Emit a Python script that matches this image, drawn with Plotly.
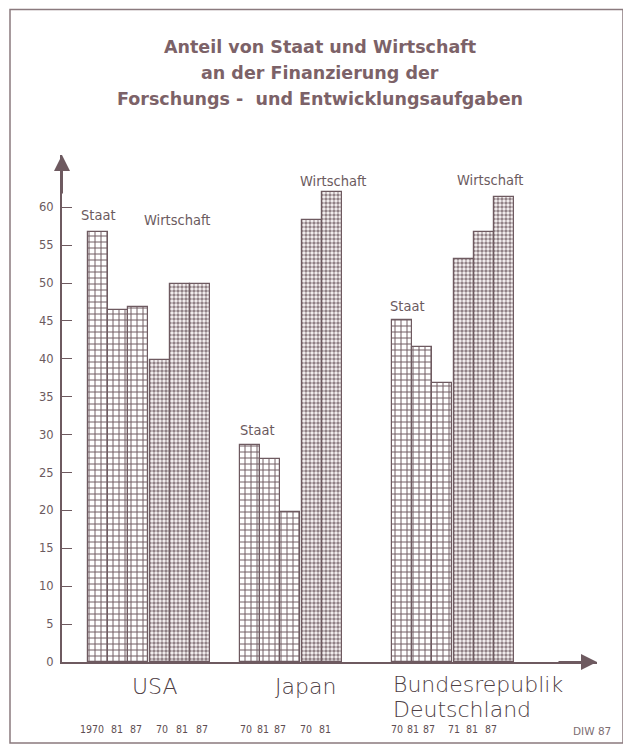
import plotly.graph_objects as go

# ---------------- data ----------------
countries = ["USA", "Japan", "Bundesrepublik", "Deutschland"]
staat_years = [["1970", "81", "87"], ["70", "81", "87"], ["70", "81", "87"]]
staat_values = [[56.7, 46.4, 46.8], [28.6, 26.8, 19.8], [45.1, 41.6, 36.8]]
wirt_years = [["70", "81", "87"], ["70", "81"], ["71", "81", "87"]]
wirt_values = [[39.8, 49.9, 49.9], [58.3, 62.0], [53.2, 56.7, 61.3]]
y_ticks = list(range(0, 61, 5))

# ---------------- layout helpers ----------------
OFF = 8                      # page body margin
W, H = 631, 746
PLOT_L, PLOT_R, PLOT_T, PLOT_B = 62, 597, 155, 662   # reference pixels
L = PLOT_L - OFF
T = PLOT_T - OFF
R = W - (PLOT_R - OFF)
B = H - (PLOT_B - OFF)
PW, PH = PLOT_R - PLOT_L, PLOT_B - PLOT_T
group_start = [1.3, 8.9, 16.5]
wirt_gap = 0.1
x_max = PW / 20.0
y_max = (PLOT_B - PLOT_T) / 7.58

INK = "#6e5a60"
TXT = "#6b5a5e"
TITLE = "#7c6268"


def px_x(px):
    return (px - PLOT_L) / PW


def px_y(py):
    return (PLOT_B - py) / PH


fig = go.Figure()

staat_x, staat_y, wirt_x, wirt_y = [], [], [], []
year_x, year_t = [], []
for g in range(3):
    for k, v in enumerate(staat_values[g]):
        xc = group_start[g] + k + 0.5
        staat_x.append(xc)
        staat_y.append(v)
        year_x.append(xc)
        year_t.append(staat_years[g][k])
    for k, v in enumerate(wirt_values[g]):
        xc = group_start[g] + 3 + wirt_gap + k + 0.5
        wirt_x.append(xc)
        wirt_y.append(v)
        year_x.append(xc)
        year_t.append(wirt_years[g][k])
# label offsets (pixels) of the small year captions relative to bar centres
year_shift = [-6, -1, -2, 2, 2, 2,
              -4, -7, -10, -6, -7,
              -5, -9, -13, -10, -12, -13]

fig.add_trace(go.Bar(
    x=staat_x, y=staat_y, width=1.0, name="Staat",
    marker=dict(
        color="white",
        line=dict(color=INK, width=1.2),
        pattern=dict(shape="+", fgcolor=INK, bgcolor="white",
                     size=6, solidity=0.3, fillmode="replace"),
    ),
    hoverinfo="x+y",
))
fig.add_trace(go.Bar(
    x=wirt_x, y=wirt_y, width=1.0, name="Wirtschaft",
    marker=dict(
        color="#8c7b80",
        line=dict(color=INK, width=1.2),
        pattern=dict(shape=".", fgcolor="#f1ecec", bgcolor="#86767b",
                     size=4, solidity=0.6, fillmode="replace"),
    ),
    hoverinfo="x+y",
))

annotations = []

# axis arrows
annotations.append(dict(x=0, y=y_max, xref="x", yref="y", ax=0, ay=40,
                        axref="pixel", ayref="pixel", text="", showarrow=True,
                        arrowhead=2, arrowsize=1.6, arrowwidth=2, arrowcolor=INK))
annotations.append(dict(x=x_max, y=0, xref="x", yref="y", ax=-40, ay=0,
                        axref="pixel", ayref="pixel", text="", showarrow=True,
                        arrowhead=2, arrowsize=1.6, arrowwidth=2, arrowcolor=INK))

# title lines
title_lines = ["Anteil von Staat und Wirtschaft",
               "an der Finanzierung der",
               "Forschungs -  und Entwicklungsaufgaben"]
for i, line in enumerate(title_lines):
    annotations.append(dict(x=px_x(320), y=px_y(47 + 26 * i), xref="paper", yref="paper",
                            text="<b>%s</b>" % line, showarrow=False,
                            xanchor="center", yanchor="middle",
                            font=dict(family="DejaVu Sans, sans-serif",
                                      size=17.5, color=TITLE)))

lab_font = dict(family="DejaVu Sans Condensed, Liberation Sans Narrow, sans-serif",
                size=14.5, color=TXT)
series_labels = [
    ("Staat", 1.8, 59.0), ("Wirtschaft", 5.75, 58.3),
    ("Staat", 9.75, 30.6), ("Wirtschaft", 13.55, 63.5),
    ("in vH", 12.9, 67.3),
    ("Staat", 17.25, 47.0), ("Wirtschaft", 21.4, 63.6),
]
for t, xx, yy in series_labels:
    annotations.append(dict(x=xx, y=yy, xref="x", yref="y", text=t, showarrow=False,
                            xanchor="center", yanchor="middle",
                            font=dict(lab_font, size=12.5) if t == "in vH" else lab_font))

# country labels
c_font = dict(family="DejaVu Sans, sans-serif", size=22, color="#4e4044", weight=200)
annotations.append(dict(x=px_x(155), y=px_y(686), xref="paper", yref="paper",
                        text=countries[0], showarrow=False, xanchor="center",
                        yanchor="middle", font=c_font))
annotations.append(dict(x=px_x(305), y=px_y(686), xref="paper", yref="paper",
                        text=countries[1], showarrow=False, xanchor="center",
                        yanchor="middle", font=c_font))
annotations.append(dict(x=px_x(391), y=px_y(684), xref="paper", yref="paper",
                        text=countries[2], showarrow=False, xanchor="left",
                        yanchor="middle", font=c_font))
annotations.append(dict(x=px_x(391), y=px_y(709), xref="paper", yref="paper",
                        text=countries[3], showarrow=False, xanchor="left",
                        yanchor="middle", font=c_font))

# year labels
y_font = dict(family="DejaVu Sans Condensed, Liberation Sans Narrow, sans-serif",
              size=10.5, color="#5e4e52")
for xx, t, s in zip(year_x, year_t, year_shift):
    annotations.append(dict(x=xx, y=px_y(729), xref="x", yref="paper", text=t,
                            showarrow=False, xanchor="center", yanchor="middle",
                            xshift=s, font=y_font))

annotations.append(dict(x=px_x(613), y=px_y(731), xref="paper", yref="paper",
                        text="DIW 87", showarrow=False, xanchor="right",
                        yanchor="middle",
                        font=dict(family="DejaVu Sans, sans-serif", size=10.5, color="#7d6d72")))

shapes = [dict(type="rect", xref="paper", yref="paper",
               x0=px_x(10), x1=px_x(623), y0=px_y(743), y1=px_y(9.5),
               line=dict(color="#8a7a7e", width=1.5), fillcolor="rgba(0,0,0,0)",
               layer="below")]

fig.update_layout(
    width=W, height=H, autosize=False,
    margin=dict(l=L, r=R, t=T, b=B, pad=0),
    paper_bgcolor="white", plot_bgcolor="white",
    showlegend=False, bargap=0,
    annotations=annotations, shapes=shapes,
    xaxis=dict(range=[0, x_max], showgrid=False, zeroline=False,
               showticklabels=False, ticks="", showline=True,
               linecolor=INK, linewidth=2, fixedrange=True),
    yaxis=dict(range=[0, y_max], showgrid=False, zeroline=False,
               tickvals=y_ticks, ticktext=[str(v) for v in y_ticks],
               ticks="inside", ticklen=10, tickwidth=1, tickcolor=INK,
               showline=True, linecolor=INK, linewidth=2, ticklabelstandoff=4,
               tickfont=dict(family="DejaVu Sans, sans-serif", size=11.5, color=TXT),
               fixedrange=True),
)

fig.write_html("out.html")
